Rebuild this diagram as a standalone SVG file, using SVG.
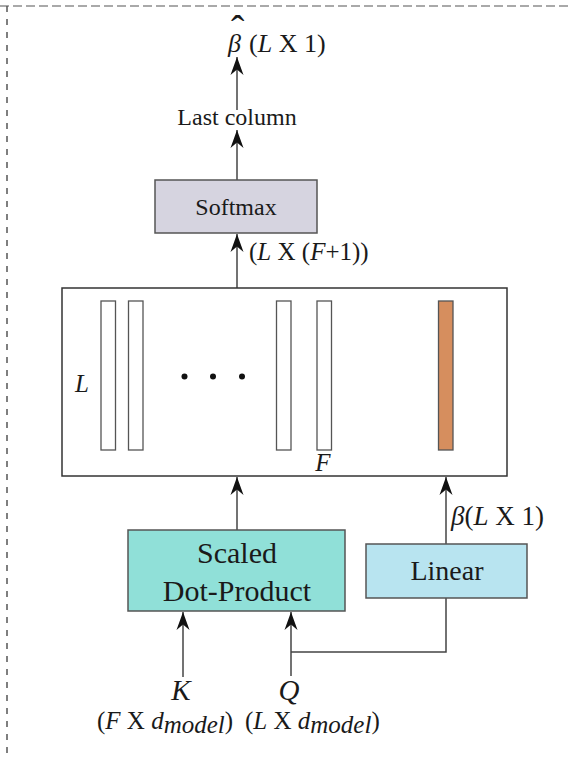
<svg xmlns="http://www.w3.org/2000/svg" width="568" height="758" viewBox="0 0 568 758">
<style>
.t{font-family:"Liberation Serif","Times New Roman",serif;fill:#1a1a1a}
.i{font-style:italic}
.box{stroke:#555;stroke-width:1.5}
.bar{fill:#fff;stroke:#555;stroke-width:1.3}
.ln{fill:none;stroke:#444;stroke-width:1.5}
</style>
<defs>
<marker id="ah" viewBox="-19 -7 20 14" refX="0" refY="0" markerWidth="20" markerHeight="14" markerUnits="userSpaceOnUse" orient="auto">
<path d="M0,0 L-18,-6.5 L-12.5,0 L-18,6.5 Z" fill="#111"/>
</marker>
</defs>
<rect width="568" height="758" fill="#fff"/>
<g id="frame">
<line x1="0" y1="6" x2="568" y2="6" stroke="#555" stroke-width="1.2" stroke-dasharray="9,4"/>
<line x1="7" y1="6" x2="7" y2="755" stroke="#555" stroke-width="1.5" stroke-dasharray="6,7"/>
</g>
<g id="connectors">
<line class="ln" x1="237" y1="288" x2="237" y2="234" marker-end="url(#ah)"/>
<line class="ln" x1="237" y1="180" x2="237" y2="130" marker-end="url(#ah)"/>
<line class="ln" x1="237" y1="110" x2="237" y2="57" marker-end="url(#ah)"/>
<line class="ln" x1="237" y1="530" x2="237" y2="477" marker-end="url(#ah)"/>
<line class="ln" x1="446" y1="544" x2="446" y2="477" marker-end="url(#ah)"/>
<line class="ln" x1="183" y1="677" x2="183" y2="612" marker-end="url(#ah)"/>
<line class="ln" x1="291" y1="676" x2="291" y2="612" marker-end="url(#ah)"/>
<polyline class="ln" points="291,652 446,652 446,598"/>
</g>
<g id="output">
<text class="t" x="228" y="52" font-size="26"><tspan class="i">β</tspan><tspan x="231" y="43" font-size="40">ˆ</tspan><tspan x="249" y="52">(<tspan class="i">L</tspan> X 1)</tspan></text>
</g>
<g id="last-column">
<text class="t" x="237" y="125" font-size="24" text-anchor="middle">Last column</text>
</g>
<g id="softmax">
<rect class="box" x="155" y="180" width="162" height="53" fill="#d6d4e0"/>
<text class="t" x="236" y="215" font-size="24" text-anchor="middle">Softmax</text>
</g>
<text class="t" x="249" y="260" font-size="25">(<tspan class="i">L</tspan> X (<tspan class="i">F</tspan>+1))</text>
<g id="matrix">
<rect x="62" y="288" width="445" height="188" fill="#fff" stroke="#333" stroke-width="1.5"/>
<rect class="bar" x="101" y="301" width="14.5" height="149"/>
<rect class="bar" x="128.5" y="301" width="14.5" height="149"/>
<rect class="bar" x="276.5" y="301" width="14.5" height="149"/>
<rect class="bar" x="317" y="301" width="14.5" height="149"/>
<rect x="438.5" y="301" width="14.5" height="149" fill="#d68e5e" stroke="#555" stroke-width="1.3"/>
<circle cx="184.5" cy="376.5" r="3" fill="#111"/>
<circle cx="213" cy="376.5" r="3" fill="#111"/>
<circle cx="242" cy="376.5" r="3" fill="#111"/>
<text class="t i" x="82" y="392" font-size="25" text-anchor="middle">L</text>
<text class="t i" x="323" y="471" font-size="25" text-anchor="middle">F</text>
</g>
<g id="scaled-dot-product">
<rect class="box" x="128" y="530" width="217" height="81" fill="#90e0d8"/>
<text class="t" x="237" y="563" font-size="30" text-anchor="middle">Scaled</text>
<text class="t" x="237" y="601" font-size="30" text-anchor="middle">Dot-Product</text>
</g>
<g id="linear">
<rect class="box" x="366" y="544" width="161" height="54" fill="#b8e4f0"/>
<text class="t" x="447" y="580" font-size="28" text-anchor="middle">Linear</text>
</g>
<text class="t" x="451" y="525" font-size="27"><tspan class="i">β</tspan>(<tspan class="i">L</tspan> X 1)</text>
<g id="inputs">
<text class="t i" x="181" y="700" font-size="29" text-anchor="middle">K</text>
<text class="t i" x="289" y="700" font-size="29" text-anchor="middle">Q</text>
<text class="t" x="97" y="729" font-size="25">(<tspan class="i">F</tspan> X <tspan class="i">d</tspan><tspan class="i" dy="4">model</tspan><tspan dy="-4">)</tspan></text>
<text class="t" x="245" y="729" font-size="25">(<tspan class="i">L</tspan> X <tspan class="i">d</tspan><tspan class="i" dy="4">model</tspan><tspan dy="-4">)</tspan></text>
</g>
</svg>
